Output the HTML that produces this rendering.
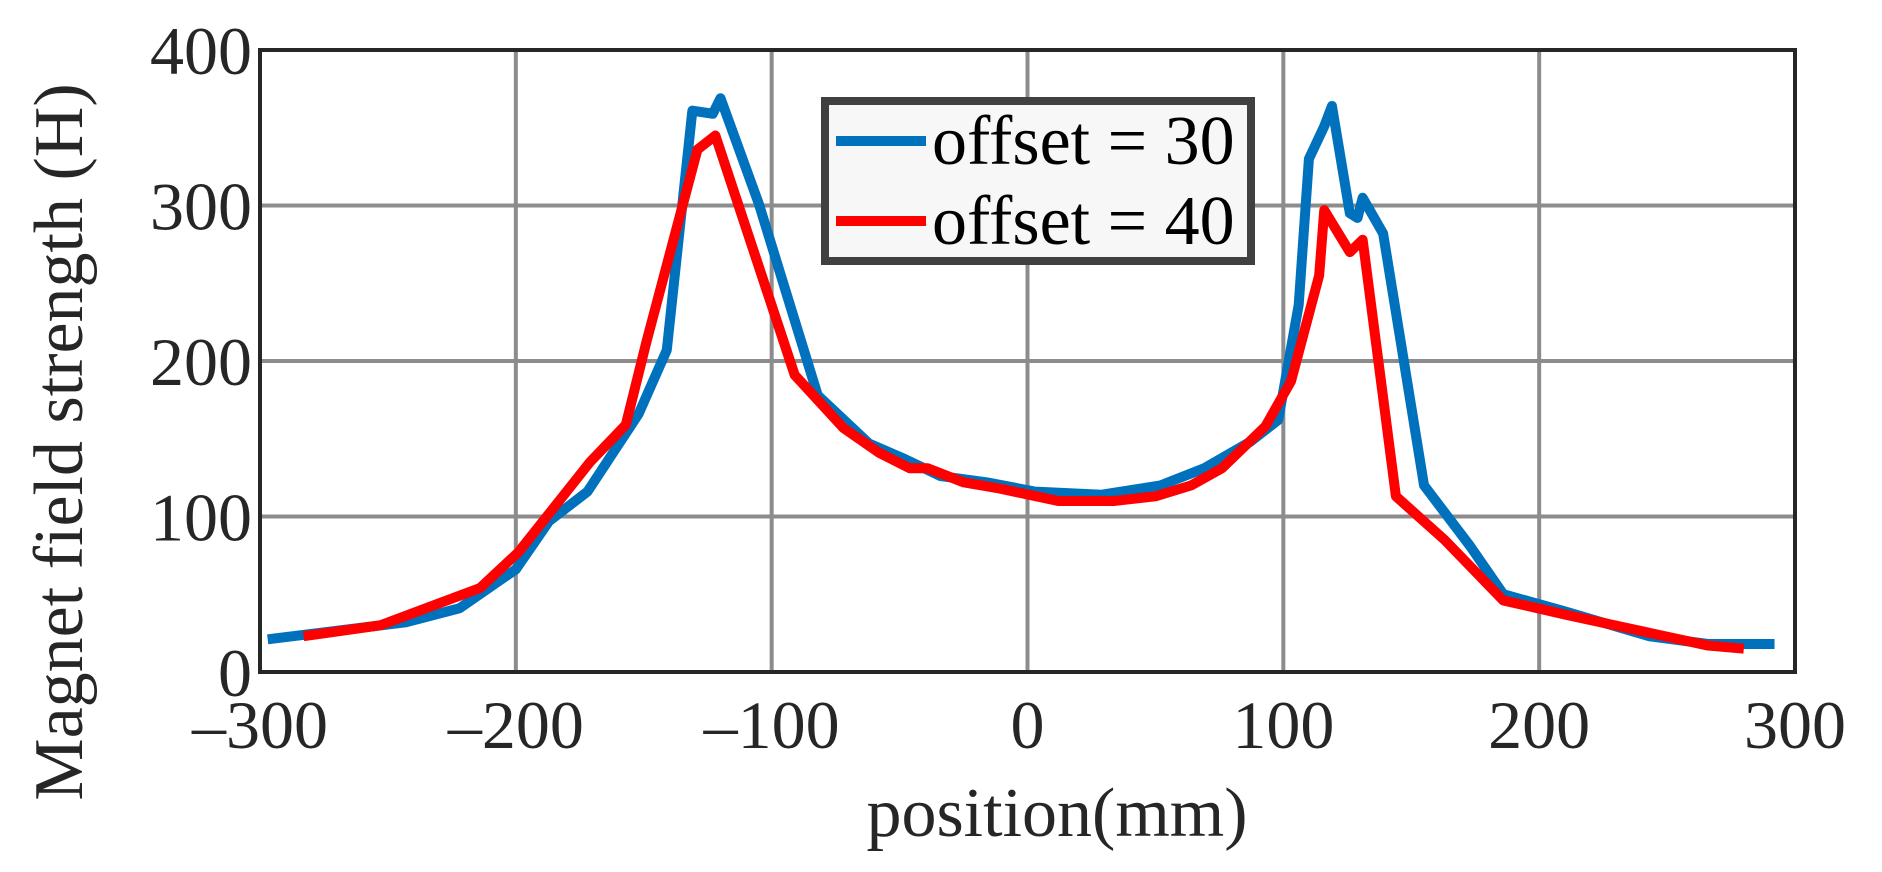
<!DOCTYPE html>
<html><head><meta charset="utf-8"><style>body{margin:0;background:#fff}svg{display:block}</style></head>
<body>
<svg id="chart" width="1882" height="872" xmlns="http://www.w3.org/2000/svg" font-family="'Liberation Serif', serif">
<g id="grid"></g>
<g id="series"></g>
<rect x="260" y="50" width="1535" height="622" fill="none" stroke="#262626" stroke-width="4"/>
<g id="ticks" font-size="68" fill="#262626"></g>
<text x="1057" y="836" font-size="70" text-anchor="middle" fill="#262626">position(mm)</text>
<text transform="translate(82,442) rotate(-90)" font-size="70" text-anchor="middle" fill="#262626">Magnet field strength (H)</text>
<g>
<rect x="825" y="101" width="426" height="160" fill="#f7f7f7" stroke="#404040" stroke-width="8"/>
<line x1="836" y1="141" x2="926" y2="141" stroke="#0072BD" stroke-width="10"/>
<text x="932" y="164" font-size="70" fill="#000">offset = 30</text>
<line x1="836" y1="221" x2="926" y2="221" stroke="#FF0000" stroke-width="10"/>
<text x="932" y="244" font-size="70" fill="#000">offset = 40</text>
</g>
</svg>
<script>
const xTicks=[-300,-200,-100,0,100,200,300];
const yTicks=[0,100,200,300,400];
const blueX=[-297,-243,-222,-200,-187,-172,-152,-141,-131,-123,-120,-105,-82,-62,-48,-34,-16,3,29,52,69,87,98,106,110,116,119,126,129,131,139,155,173,186,210,243,266,292];
const blueY=[21,32,41,66,97,116,166,207,361,359,369,301,178,147,137,126,122,116,114,120,131,148,162,236,330,351,364,295,292,305,282,120,81,50,39,23,18,18];
const redX=[-283,-253,-227,-214,-199,-171,-157,-149,-129,-122,-91,-72,-58,-46,-39,-25,-11,12,34,50,64,76,93,103,114,116,126,131,144,163,186,210,238,266,280];
const redY=[23,30,46,54,77,135,159,212,336,345,191,157,141,131,131,122,118,110,110,113,120,131,158,187,255,297,270,278,113,85,46,37,27,17,15];
const L=260,R=1795,T=50,B=672;
const sx=v=>L+(v+300)/600*(R-L);
const sy=v=>B-v/400*(B-T);
const NS="http://www.w3.org/2000/svg";
const grid=document.getElementById('grid'),ticks=document.getElementById('ticks'),ser=document.getElementById('series');
function mk(tag,attrs,parent){const e=document.createElementNS(NS,tag);for(const k in attrs)e.setAttribute(k,attrs[k]);parent.appendChild(e);return e;}
xTicks.forEach(v=>{
 const l=mk('line',{x1:sx(v),x2:sx(v),y1:T,y2:B,stroke:'#8c8c8c','stroke-width':4},grid);
 
 
 const t=mk('text',{x:sx(v),y:748,'text-anchor':'middle'},ticks);
 t.textContent=(v<0?'\u2013'+(-v):String(v));
 
 
});
yTicks.forEach(v=>{
 const l=mk('line',{x1:L,x2:R,y1:sy(v),y2:sy(v),stroke:'#8c8c8c','stroke-width':4},grid);
 
 
 const t=mk('text',{x:252,y:sy(v)+24,'text-anchor':'end'},ticks);
 t.textContent=String(v);
 
 
});
function line(xs,ys,color,name){
 const p=mk('polyline',{points:xs.map((x,i)=>sx(x)+','+sy(ys[i])).join(' '),fill:'none',stroke:color,'stroke-width':10,'stroke-linejoin':'round'},ser);
 
 
}
line(blueX,blueY,'#0072BD','series-offset-30');
line(redX,redY,'#FF0000','series-offset-40');
</script>
</body></html>
